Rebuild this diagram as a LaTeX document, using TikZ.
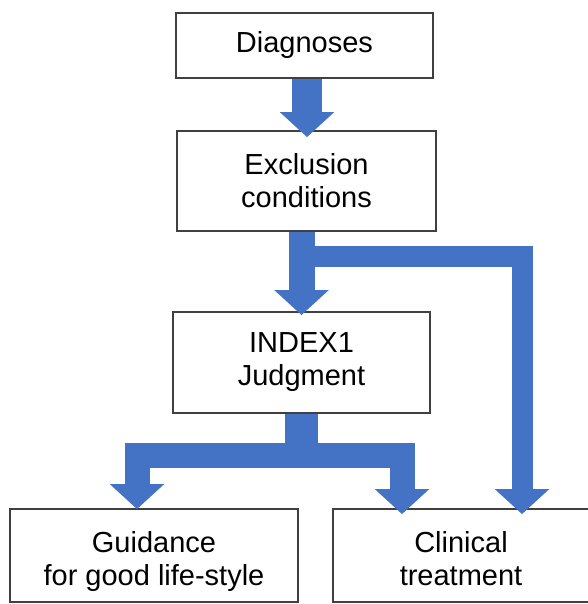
\documentclass[tikz,border=0pt]{standalone}
\usepackage{fontspec}
\setmainfont{Liberation Sans}
\usepackage{tikz}
\usetikzlibrary{arrows.meta,positioning,calc}
\definecolor{flowBlue}{HTML}{4472C4}
\definecolor{boxGray}{HTML}{404040}

\begin{document}
\begin{tikzpicture}[x=1pt,y=-1pt,
    stepbox/.style={draw=boxGray,line width=1.8pt,fill=white,align=center,
                    inner sep=0pt,font=\fontsize{29}{33}\selectfont},
    bigarrow/.style={draw=flowBlue,line width=27pt,line join=miter,
                     -{Triangle[width=53pt,length=25pt]}}]
    \useasboundingbox (0,0) rectangle (587,604);
    \node[stepbox,minimum width=257pt,minimum height=65pt] (diag) at (304.5,45.5) {Diagnoses};
    \node[stepbox,minimum width=259pt,minimum height=100pt] (excl) at (306.5,181) {Exclusion\\conditions};
    \node[stepbox,minimum width=257pt,minimum height=101pt] (index) at (301.5,362.5) {INDEX1\\Judgment};
    \node[stepbox,minimum width=288pt,minimum height=93pt] (guide) at (154,555.5)
      {\raisebox{-7pt}[\height][\depth]{\begin{tabular}{@{}c@{}}Guidance\\for good life-style\end{tabular}}};
    \node[stepbox,minimum width=256pt,minimum height=93pt] (clin) at (461,555.5)
      {\raisebox{-7pt}[\height][\depth]{\begin{tabular}{@{}c@{}}Clinical\\treatment\end{tabular}}};

    \draw[bigarrow,line width=30pt] (diag.south -| 307,0) -- ([yshift=-7pt]excl.north -| 307,0);
    \draw[bigarrow,line width=21pt] ($(excl.south -| index.north)+(0,25)$) -| ([xshift=61pt,yshift=-6pt]clin.north);
    \draw[bigarrow,line width=26pt] (excl.south -| index.north) -- ([yshift=-4pt]index.north);
    \draw[bigarrow,line width=25pt] (index.south) -- ++(0,41.5) -| ([xshift=-17pt,yshift=-1pt]guide.north);
    \draw[bigarrow,line width=25pt] (index.south) -- ++(0,41.5) -| ([xshift=-59pt,yshift=-6pt]clin.north);
    \draw[flowBlue,line width=33pt] (index.south) -- ++(0,29);
\end{tikzpicture}
\end{document}
